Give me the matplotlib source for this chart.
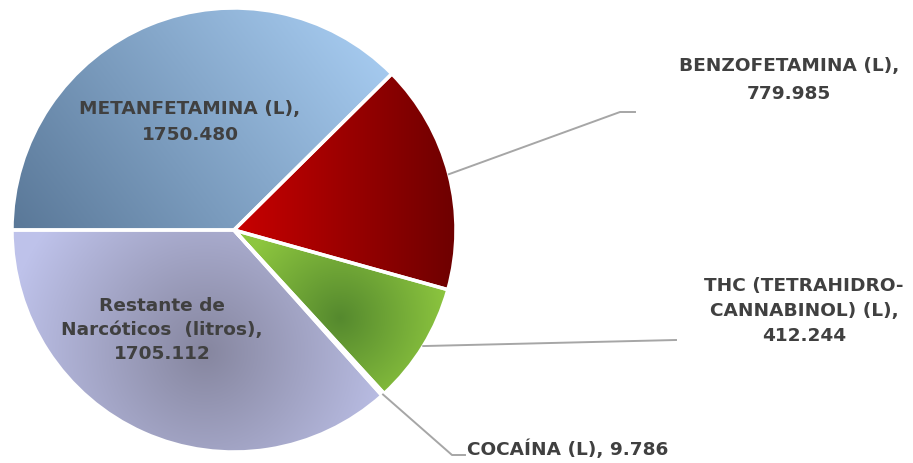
import numpy as np
import matplotlib
matplotlib.use("Agg")
import matplotlib.pyplot as plt

plt.rcParams['font.family'] = ['DejaVu Sans']

# data
labels = ['METANFETAMINA (L)', 'BENZOFETAMINA (L)',
          'THC (TETRAHIDRO-\nCANNABINOL) (L)', 'COCAÍNA (L)',
          'Restante de\nNarcóticos  (litros)']
values = [1750.480, 779.985, 412.244, 9.786, 1705.112]
value_txt = ['1750.480', '779.985', '412.244', '9.786', '1705.112']

W, H = 913, 463
cx, cy, R = 234, 230, 222   # pie centre / radius in pixels (y from top)

fig = plt.figure(figsize=(W / 100, H / 100), dpi=100)
ax = fig.add_axes([0, 0, 1, 1])
ax.set_xlim(0, W)
ax.set_ylim(0, H)
ax.set_aspect('equal')
ax.axis('off')

wedges, _ = ax.pie(values, center=(cx, H - cy), radius=R, startangle=180,
                   counterclock=False,
                   wedgeprops=dict(facecolor='none', edgecolor='white',
                                   linewidth=2.5, zorder=3))
ax.set_xlim(0, W)
ax.set_ylim(0, H)

# pixel grid for gradient fills
X, Y = np.meshgrid(np.arange(W) + 0.5, np.arange(H) + 0.5)


def hexrgb(h):
    return np.array([int(h[i:i + 2], 16) for i in (1, 3, 5)]) / 255.0


def blend(t, c0, c1):
    t = np.clip(t, 0, 1)[..., None]
    return hexrgb(c0) * (1 - t) + hexrgb(c1) * t


# metanfetamina: linear, dark bottom-left -> light top-right
d = np.array([1.0, -0.75]) / np.hypot(1.0, 0.75)
p = (X - 20) * d[0] + (Y - 235) * d[1]
g_met = blend(p / 400, '#5a7898', '#a6cbf0')
# benzofetamina: horizontal red
g_ben = blend((X - 236) / 219, '#c80000', '#6e0000')
# thc: radial green
g_thc = blend(np.hypot(X - 340, Y - 318) / 110, '#55892e', '#8dc63f')
# cocaina (tiny)
g_coc = blend(np.zeros_like(X), '#7fbf3f', '#7fbf3f')
# restante: radial lavender
g_res = blend(np.hypot(X - 205, Y - 352) / 200, '#86869f', '#bec2ea')

for w, img in zip(wedges, [g_met, g_ben, g_thc, g_coc, g_res]):
    im = ax.imshow(img, extent=(0, W, 0, H), origin='upper',
                   interpolation='bilinear', zorder=2)
    im.set_clip_path(w)

tc = '#404040'
fs = 13.3

# labels inside slices
ax.text(190, H - 122, labels[0] + ',\n' + value_txt[0], ha='center',
        va='center', fontsize=fs, fontweight='bold', color=tc,
        linespacing=1.55, zorder=4)
ax.text(162, H - 330, labels[4] + ',\n' + value_txt[4], ha='center',
        va='center', fontsize=fs, fontweight='bold', color=tc,
        linespacing=1.45, zorder=4)


def edge_point(w):
    ang = np.deg2rad((w.theta1 + w.theta2) / 2)
    return cx + R * np.cos(ang), H - cy + R * np.sin(ang)


lc = '#a6a6a6'
# benzofetamina leader
x0, y0 = edge_point(wedges[1])
ax.plot([x0, 620, 635], [y0, H - 112, H - 112], color=lc, lw=1.4, zorder=4)
ax.text(789, H - 80, labels[1] + ',\n' + value_txt[1], ha='center',
        va='center', fontsize=fs, fontweight='bold', color=tc,
        linespacing=1.65)
# thc leader
x0, y0 = edge_point(wedges[2])
ax.plot([x0, 676], [y0, H - 340], color=lc, lw=1.4, zorder=4)
ax.text(804, H - 311, labels[2] + ',\n' + value_txt[2], ha='center',
        va='center', fontsize=fs, fontweight='bold', color=tc,
        linespacing=1.5)
# cocaina leader
x0, y0 = edge_point(wedges[3])
ax.plot([x0, 452, 465], [y0, H - 455, H - 455], color=lc, lw=1.4, zorder=4)
ax.text(467, H - 449, labels[3] + ', ' + value_txt[3], ha='left',
        va='center', fontsize=fs, fontweight='bold', color=tc)

fig.savefig('out.png', dpi=100)
